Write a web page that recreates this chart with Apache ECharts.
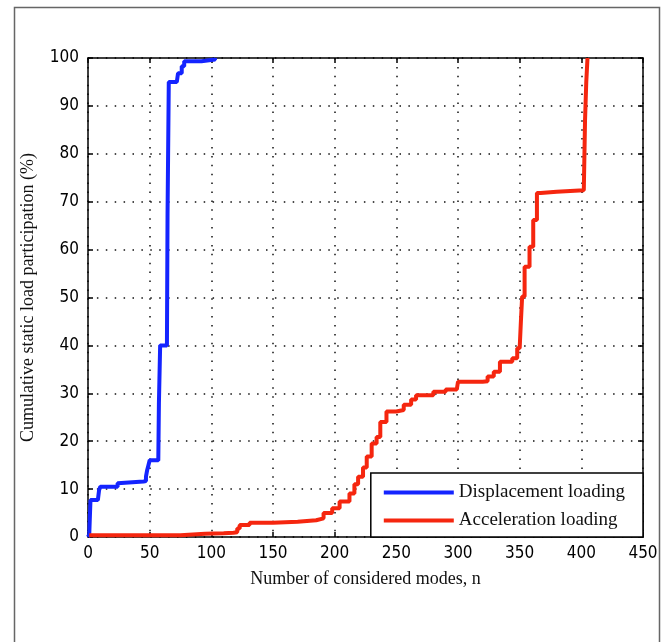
<!DOCTYPE html>
<html>
<head>
<meta charset="utf-8">
<script src="https://cdn.jsdelivr.net/npm/echarts@6/dist/echarts.min.js"></script>
<style>
  html, body { margin: 0; padding: 0; background: #fff; }
  #chart { width: 671px; height: 642px; }
</style>
</head>
<body>
<div id="chart"></div>
<script>
// Cumulative static load participation vs. number of modes (staircase curves)
const seriesNames = ['Displacement loading', 'Acceleration loading'];

// [mode number n, cumulative participation %]
const displacementLoading = [
  [0, 0], [1, 0.5], [2, 7.7], [8, 8.0], [9, 9.8], [10, 10.5], [24, 11.2], [25, 11.6],
  [45, 11.7], [47, 12.6], [48, 14.0], [49, 15.0], [50, 16.0], [57, 16.1], [57.5, 28],
  [58.5, 40.0], [64, 40.2], [64.5, 67.5], [65.5, 95.0], [72, 95.3], [73, 96.8],
  [76, 98.3], [78, 99.3], [92, 99.7], [103, 100]
];

const accelerationLoading = [
  [1, 0.35], [75, 0.4], [76, 0.7], [95, 0.8], [110, 0.9], [118, 1.0], [121, 1.8],
  [123, 2.5], [131, 3.0], [150, 3.2], [170, 3.5], [185, 3.9], [191, 5.0], [198, 6.0],
  [204, 7.4], [212, 9.1], [216, 11.0], [219, 12.6], [223, 14.5], [226, 16.8],
  [230, 19.5], [234, 20.9], [237, 24.0], [242, 26.2], [250, 26.5], [256, 27.6],
  [262, 28.7], [266, 29.6], [280, 30.3], [290, 30.8], [299, 31.2], [300, 32.4],
  [320, 32.5], [324, 33.5], [329, 34.5], [334, 36.6], [344, 37.3], [348, 39.4],
  [350, 39.8], [351, 45.0], [352, 50.2], [354, 56.4], [358, 60.6], [361, 66.2],
  [364, 71.8], [367, 72.1], [380, 72.4], [402, 72.8], [403, 87.0], [404, 95.0],
  [405, 100]
];

const xTicks = { min: 0, max: 450, interval: 50 };
const yTicks = { min: 0, max: 100, interval: 10 };

const serif = "'Liberation Serif', 'DejaVu Serif', serif";
const tickFont = "'DejaVu Sans Condensed', 'Liberation Sans Narrow', 'Liberation Sans', sans-serif";

const axisLine = { show: true, onZero: false, lineStyle: { color: '#000', width: 1.5 } };
const axisTick = { show: true, inside: true, length: 5, lineStyle: { color: '#000', width: 1.5 } };
const gridLine = { show: true, lineStyle: { color: '#111', width: 1.5, type: [1.5, 7.4] } };

const chart = echarts.init(document.getElementById('chart'), null, { renderer: 'canvas' });

chart.setOption({
  backgroundColor: '#fff',
  animation: false,
  graphic: [{
    type: 'rect',
    z: -10,
    silent: true,
    shape: { x: 14.5, y: 7.5, width: 645, height: 700 },
    style: { fill: 'none', stroke: '#666', lineWidth: 1.5 }
  }],
  grid: { left: 88, top: 58, right: 28, bottom: 105, show: false },
  legend: {
    right: 28,
    bottom: 105,
    orient: 'vertical',
    icon: 'rect',
    itemWidth: 70,
    itemHeight: 4,
    itemGap: 9,
    padding: [10, 18, 7, 13],
    backgroundColor: '#fff',
    borderColor: '#000',
    borderWidth: 1.5,
    textStyle: { fontFamily: serif, fontSize: 19, color: '#111' },
    data: seriesNames
  },
  xAxis: [{
    type: 'value',
    position: 'bottom',
    ...xTicks,
    name: 'Number of considered modes, n',
    nameLocation: 'middle',
    nameGap: 33,
    nameTextStyle: { fontFamily: serif, fontSize: 18, color: '#111' },
    axisLine, axisTick,
    axisLabel: { fontFamily: tickFont, fontSize: 17, color: '#000', margin: 8 },
    splitLine: gridLine
  }, {
    type: 'value',
    position: 'top',
    ...xTicks,
    axisLine, axisTick,
    axisLabel: { show: false },
    splitLine: { show: false }
  }],
  yAxis: [{
    type: 'value',
    position: 'left',
    ...yTicks,
    name: 'Cumulative static load participation (%)',
    nameLocation: 'middle',
    nameGap: 51,
    nameTextStyle: { fontFamily: serif, fontSize: 18, color: '#111' },
    axisLine, axisTick,
    axisLabel: { fontFamily: tickFont, fontSize: 17, color: '#000', margin: 9 },
    splitLine: gridLine
  }, {
    type: 'value',
    position: 'right',
    ...yTicks,
    axisLine, axisTick,
    axisLabel: { show: false },
    splitLine: { show: false }
  }],
  series: [{
    name: seriesNames[0],
    type: 'line',
    step: 'end',
    showSymbol: false,
    color: '#1424ff',
    lineStyle: { width: 4, color: '#1424ff' },
    data: displacementLoading
  }, {
    name: seriesNames[1],
    type: 'line',
    step: 'end',
    showSymbol: false,
    color: '#f5260f',
    lineStyle: { width: 4, color: '#f5260f' },
    data: accelerationLoading
  }]
});
</script>
</body>
</html>
